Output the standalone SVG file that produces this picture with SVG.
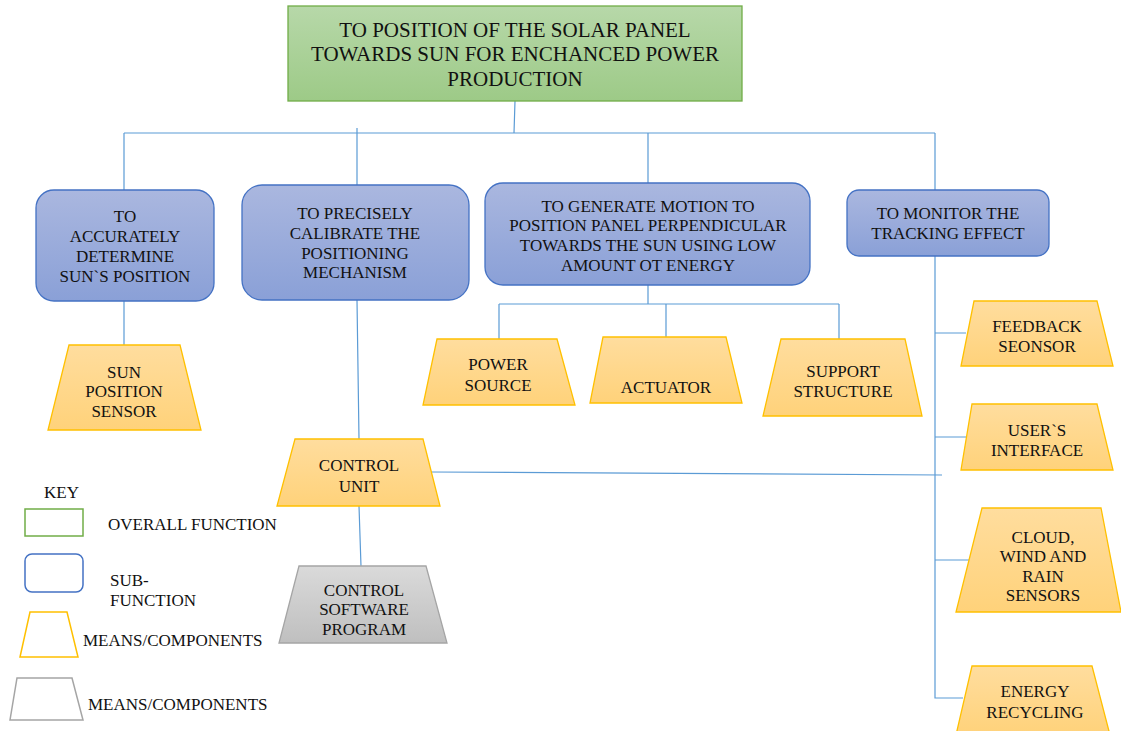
<svg xmlns="http://www.w3.org/2000/svg" width="1121" height="731" viewBox="0 0 1121 731">
<defs>
<linearGradient id="gG" x1="0" y1="0" x2="0" y2="1"><stop offset="0" stop-color="#b7d8a9"/><stop offset="1" stop-color="#9dca87"/></linearGradient>
<linearGradient id="gB" x1="0" y1="0" x2="0" y2="1"><stop offset="0" stop-color="#aab7df"/><stop offset="1" stop-color="#8aa0d7"/></linearGradient>
<linearGradient id="gY" x1="0" y1="0" x2="0" y2="1"><stop offset="0" stop-color="#ffdd9e"/><stop offset="1" stop-color="#ffd27a"/></linearGradient>
<linearGradient id="gS" x1="0" y1="0" x2="0" y2="1"><stop offset="0" stop-color="#dadada"/><stop offset="1" stop-color="#bfbfbf"/></linearGradient>
</defs>
<style>
text{font-family:'Liberation Serif','Times New Roman','DejaVu Serif',serif;font-size:17px;fill:#111;text-anchor:middle}
.top{font-size:21px}
.key{text-anchor:start}
.fn{fill:url(#gG);stroke:#70ad47;stroke-width:1.3}
.sub{fill:url(#gB);stroke:#4472c4;stroke-width:1.3}
.mean{fill:url(#gY);stroke:#ffc000;stroke-width:1.3}
.soft{fill:url(#gS);stroke:#a5a5a5;stroke-width:1.3}
.c{fill:none;stroke:#5b9bd5;stroke-width:1.2}
</style>
<g font-family="Liberation Serif, serif">
<g id="connectors">
<path class="c" d="M515,101 L514,133 M124,133 L935,133 M124,133 L124,190 M357,128 L357,185 M648,133 L648,183 M935,133 L935,190"/>
<path class="c" d="M124,301 L124,345"/>
<path class="c" d="M357,300 L359,439 M359,506 L361,566"/>
<path class="c" d="M431,472 L942,475"/>
<path class="c" d="M648,285 L648,304 M499,304 L839,304 M499,304 L499,339 M666,304 L666,337 M839,304 L839,340"/>
<path class="c" d="M935,256 L935,698 L963,698 M935,333 L966,333 M935,437 L966,437 M935,560 L970,560"/>
</g>
<g id="overall">
<rect class="fn" x="288" y="6" width="454" height="95"/>
<text class="top" x="515" y="37">TO POSITION OF THE SOLAR PANEL</text>
<text class="top" x="515" y="61">TOWARDS SUN FOR ENCHANCED POWER</text>
<text class="top" x="515" y="86">PRODUCTION</text>
</g>
<g id="sub1">
<rect class="sub" x="36" y="190" width="178" height="111" rx="18"/>
<text x="125" y="222">TO</text>
<text x="125" y="242">ACCURATELY</text>
<text x="125" y="262">DETERMINE</text>
<text x="125" y="282">SUN`S POSITION</text>
</g>
<g id="sub2">
<rect class="sub" x="242" y="185" width="227" height="115" rx="20"/>
<text x="355" y="219">TO PRECISELY</text>
<text x="355" y="239">CALIBRATE THE</text>
<text x="355" y="259">POSITIONING</text>
<text x="355" y="278">MECHANISM</text>
</g>
<g id="sub3">
<rect class="sub" x="485" y="183" width="325" height="102" rx="18"/>
<text x="648" y="212">TO GENERATE MOTION TO</text>
<text x="648" y="231">POSITION PANEL PERPENDICULAR</text>
<text x="648" y="251">TOWARDS THE SUN USING LOW</text>
<text x="648" y="271">AMOUNT OT ENERGY</text>
</g>
<g id="sub4">
<rect class="sub" x="847" y="190" width="202" height="66" rx="12"/>
<text x="948" y="219">TO MONITOR THE</text>
<text x="948" y="239">TRACKING EFFECT</text>
</g>
<g id="sunSensor">
<polygon class="mean" points="69,345 180,345 201,430 48,430"/>
<text x="124" y="378">SUN</text>
<text x="124" y="397">POSITION</text>
<text x="124" y="417">SENSOR</text>
</g>
<g id="controlUnit">
<polygon class="mean" points="295,439 423,439 440,506 277,506"/>
<text x="359" y="471">CONTROL</text>
<text x="359" y="492">UNIT</text>
</g>
<g id="controlSoftware">
<polygon class="soft" points="299,566 426,566 447,643 279,643"/>
<text x="364" y="596">CONTROL</text>
<text x="364" y="615">SOFTWARE</text>
<text x="364" y="635">PROGRAM</text>
</g>
<g id="powerSource">
<polygon class="mean" points="437,339 557,339 575,405 423,405"/>
<text x="498" y="370">POWER</text>
<text x="498" y="391">SOURCE</text>
</g>
<g id="actuator">
<polygon class="mean" points="603,337 726,337 742,403 590,403"/>
<text x="666" y="393">ACTUATOR</text>
</g>
<g id="supportStructure">
<polygon class="mean" points="781,339 905,339 922,416 763,416"/>
<text x="843" y="377">SUPPORT</text>
<text x="843" y="397">STRUCTURE</text>
</g>
<g id="feedbackSensor">
<polygon class="mean" points="974,301 1097,301 1113,366 961,366"/>
<text x="1037" y="332">FEEDBACK</text>
<text x="1037" y="352">SEONSOR</text>
</g>
<g id="userInterface">
<polygon class="mean" points="972,404 1097,404 1113,470 961,470"/>
<text x="1037" y="436">USER`S</text>
<text x="1037" y="456">INTERFACE</text>
</g>
<g id="weatherSensors">
<polygon class="mean" points="982,508 1101,508 1121,612 956,612"/>
<text x="1043" y="543">CLOUD,</text>
<text x="1043" y="562">WIND AND</text>
<text x="1043" y="582">RAIN</text>
<text x="1043" y="601">SENSORS</text>
</g>
<g id="energyRecycling">
<polygon class="mean" points="972,666 1092,666 1110,735 956,735"/>
<text x="1035" y="697">ENERGY</text>
<text x="1035" y="718">RECYCLING</text>
</g>
<g id="key">
<text class="key" x="44" y="498">KEY</text>
<rect x="25" y="509" width="58" height="27" fill="#fff" stroke="#70ad47" stroke-width="1.5"/>
<text class="key" x="108" y="530">OVERALL FUNCTION</text>
<rect x="25" y="554" width="58" height="38" rx="7" fill="#fff" stroke="#4472c4" stroke-width="1.5"/>
<text class="key" x="110" y="586">SUB-</text>
<text class="key" x="110" y="606">FUNCTION</text>
<polygon points="30,612 67,612 78,657 20,657" fill="#fff" stroke="#ffc000" stroke-width="1.5"/>
<text class="key" x="83" y="646">MEANS/COMPONENTS</text>
<polygon points="17,678 72,678 83,720 10,720" fill="#fff" stroke="#a5a5a5" stroke-width="1.5"/>
<text class="key" x="88" y="710">MEANS/COMPONENTS</text>
</g>
</g>
</svg>
